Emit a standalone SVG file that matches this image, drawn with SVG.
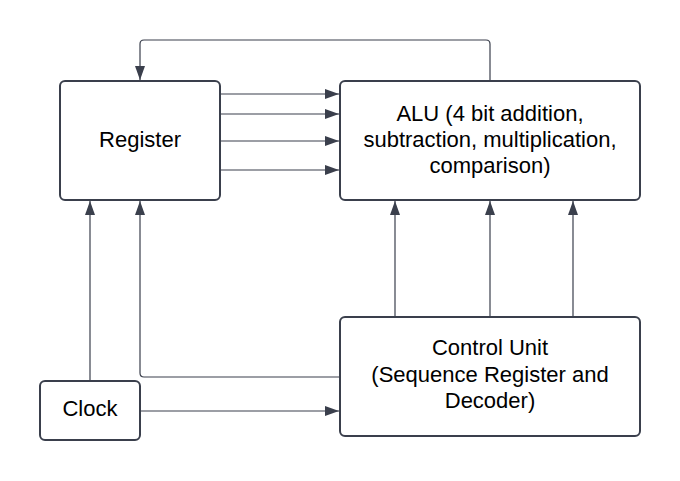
<svg xmlns="http://www.w3.org/2000/svg" width="680" height="481" viewBox="0 0 680 481">
<defs>
<marker id="arr" viewBox="0 0 14 10" refX="14" refY="5" markerWidth="14" markerHeight="10" markerUnits="userSpaceOnUse" orient="auto">
<path d="M0,0 L14,5 L0,10 Z" fill="#3a3f4c"/>
</marker>
<style>
.box{fill:#fff;stroke:#3a3f4c;stroke-width:2}
.t{font-family:"Liberation Sans",Arial,sans-serif;font-size:22px;fill:#000;text-anchor:middle}
.c{fill:none;stroke:#3a3f4c;stroke-width:1.2;marker-end:url(#arr)}
</style>
</defs>
<rect width="680" height="481" fill="#fff"/>
<g id="connectors">
<path class="c" d="M490,81 V44 Q490,40 486,40 H144 Q140,40 140,44 V80"/>
<path class="c" d="M221,94 H339"/>
<path class="c" d="M221,114 H339"/>
<path class="c" d="M221,141 H339"/>
<path class="c" d="M221,170 H339"/>
<path class="c" d="M395,317 V201"/>
<path class="c" d="M490,317 V201"/>
<path class="c" d="M573,317 V201"/>
<path class="c" d="M90,381 V201"/>
<path class="c" d="M340,377 H144 Q140,377 140,373 V201"/>
<path class="c" d="M141,411 H339"/>
</g>
<g id="register">
<rect class="box" x="60" y="81" width="160" height="119" rx="5"/>
<text class="t" x="140" y="147">Register</text>
</g>
<g id="alu">
<rect class="box" x="340" y="81" width="300" height="119" rx="5"/>
<text class="t" x="490" y="121">ALU (4 bit addition,</text>
<text class="t" x="490" y="147">subtraction, multiplication,</text>
<text class="t" x="490" y="173">comparison)</text>
</g>
<g id="control">
<rect class="box" x="340" y="317" width="300" height="119" rx="5"/>
<text class="t" x="490" y="355">Control Unit</text>
<text class="t" x="490" y="382">(Sequence Register and</text>
<text class="t" x="490" y="408">Decoder)</text>
</g>
<g id="clock">
<rect class="box" x="40" y="381" width="100" height="59" rx="5"/>
<text class="t" x="90" y="416">Clock</text>
</g>
</svg>
